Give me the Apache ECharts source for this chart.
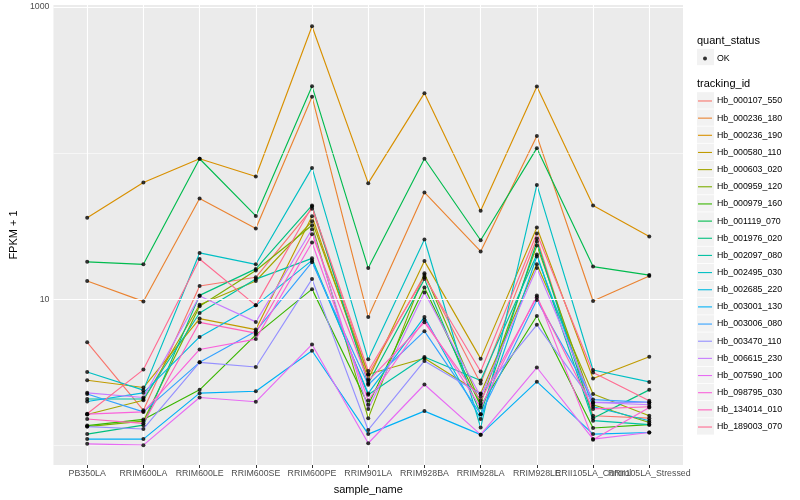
<!DOCTYPE html>
<html>
<head>
<meta charset="utf-8">
<script src="https://cdn.jsdelivr.net/npm/echarts@6/dist/echarts.min.js"></script>
<style>html,body{margin:0;padding:0;background:#fff;}#main{width:800px;height:500px;}</style>
</head>
<body>
<div id="main"></div>
<script>
// ---- data ----
const categories = ['PB350LA','RRIM600LA','RRIM600LE','RRIM600SE','RRIM600PE','RRIM901LA','RRIM928BA','RRIM928LA','RRIM928LE','RRII105LA_Control','RRII105LA_Stressed'];
const trackingIds = ['Hb_000107_550','Hb_000236_180','Hb_000236_190','Hb_000580_110','Hb_000603_020','Hb_000959_120','Hb_000979_160','Hb_001119_070','Hb_001976_020','Hb_002097_080','Hb_002495_030','Hb_002685_220','Hb_003001_130','Hb_003006_080','Hb_003470_110','Hb_006615_230','Hb_007590_100','Hb_098795_030','Hb_134014_010','Hb_189003_070'];
const Hb_000107_550 = [5.06, 1.73, 12.3, 14.1, 41.6, 3.03, 14.6, 2.64, 26.0, 1.59, 1.53];
const Hb_000236_180 = [13.3, 9.64, 48.9, 30.4, 243, 7.55, 53.7, 21.2, 131, 9.7, 14.4];
const Hb_000236_190 = [36.1, 62.8, 91.4, 69.0, 739, 62.2, 257, 40.3, 286, 43.7, 26.8];
const Hb_000580_110 = [2.78, 2.48, 7.35, 6.18, 36.9, 2.83, 18.2, 3.91, 30.9, 2.86, 4.03];
const Hb_000603_020 = [1.62, 2.03, 9.15, 13.3, 34.1, 3.06, 3.93, 2.26, 17.3, 2.24, 1.59];
const Hb_000959_120 = [1.34, 1.46, 8.92, 15.7, 32.0, 1.53, 15.0, 1.93, 23.3, 1.89, 1.43];
const Hb_000979_160 = [1.36, 1.50, 2.39, 5.69, 11.7, 1.89, 12.0, 1.86, 7.66, 1.31, 1.38];
const Hb_001119_070 = [18.0, 17.3, 91.4, 37.1, 287, 16.3, 91.4, 25.3, 108, 16.7, 14.6];
const Hb_001976_020 = [1.19, 1.37, 10.6, 16.1, 43.8, 2.64, 13.7, 1.63, 24.8, 1.53, 2.39];
const Hb_002097_080 = [2.07, 2.07, 8.03, 13.7, 19.0, 2.21, 4.01, 2.77, 20.2, 1.47, 1.38];
const Hb_002495_030 = [3.17, 2.38, 20.7, 17.3, 79.1, 3.87, 25.6, 1.32, 60.5, 3.27, 2.71];
const Hb_002685_220 = [1.99, 2.28, 5.51, 9.06, 18.4, 2.26, 7.55, 1.51, 19.6, 1.83, 1.47];
const Hb_003001_130 = [1.10, 1.10, 2.27, 2.34, 4.43, 1.19, 1.71, 1.18, 2.72, 1.19, 1.22];
const Hb_003006_080 = [2.24, 1.69, 3.69, 6.03, 17.9, 2.59, 6.03, 1.63, 9.84, 2.05, 1.96];
const Hb_003470_110 = [1.34, 1.29, 3.69, 3.43, 13.7, 1.27, 3.77, 2.24, 6.66, 1.96, 1.96];
const Hb_006615_230 = [2.28, 2.12, 10.5, 6.98, 30.1, 1.77, 11.1, 2.15, 16.3, 1.96, 1.89];
const Hb_007590_100 = [1.02, 1.00, 2.12, 1.98, 4.89, 1.03, 2.60, 1.18, 3.40, 1.10, 1.22];
const Hb_098795_030 = [1.63, 1.69, 4.52, 5.32, 24.4, 2.02, 7.22, 1.81, 10.6, 1.09, 1.81];
const Hb_134014_010 = [1.51, 1.41, 6.93, 5.85, 27.8, 2.75, 6.93, 2.03, 10.3, 1.77, 1.83];
const Hb_189003_070 = [1.64, 3.29, 18.8, 9.06, 43.0, 3.22, 14.1, 3.19, 28.1, 3.14, 2.01];
const yMajorTicks = [10, 1000];
const yMinorLines = [1, 100];

const seriesValues = [Hb_000107_550, Hb_000236_180, Hb_000236_190, Hb_000580_110, Hb_000603_020, Hb_000959_120, Hb_000979_160, Hb_001119_070, Hb_001976_020, Hb_002097_080, Hb_002495_030, Hb_002685_220, Hb_003001_130, Hb_003006_080, Hb_003470_110, Hb_006615_230, Hb_007590_100, Hb_098795_030, Hb_134014_010, Hb_189003_070];

// ---- style ----
const palette = ['#F8766D','#EA8331','#D89000','#C09B00','#A3A500','#7CAE00','#39B600','#00BB4E','#00BF7D','#00C1A3','#00BFC4','#00BAE0','#00B0F6','#35A2FF','#9590FF','#C77CFF','#E76BF3','#FA62DB','#FF62BC','#FF6C91'];
const FONT = 'Liberation Sans';
const catIdx = categories.map((c, i) => i);
const evenIdx = catIdx.filter(i => i % 2 === 0);
const oddIdx = catIdx.filter(i => i % 2 === 1);

const chart = echarts.init(document.getElementById('main'), null, {renderer: 'canvas'});

const lineSeries = trackingIds.map((id, k) => ({
  type: 'line',
  name: id,
  xAxisIndex: 0,
  data: seriesValues[k].map((v, i) => [i, v]),
  showSymbol: false,
  symbol: 'none',
  color: palette[k],
  lineStyle: {width: 1.15, color: palette[k]},
  z: 3,
  silent: true
}));

const pointData = [];
seriesValues.forEach(arr => arr.forEach((v, i) => pointData.push([i, v])));

const gridLines = [];
catIdx.forEach(i => gridLines.push({xAxis: i, lineStyle: {width: 1.1}}));
yMajorTicks.forEach(v => gridLines.push({yAxis: v, lineStyle: {width: 1.1}}));
yMinorLines.forEach(v => gridLines.push({yAxis: v, lineStyle: {width: 0.55}}));

const keyBoxes = [];
const keyStart = 92.2, keyStep = 17.16;
trackingIds.forEach((id, i) => keyBoxes.push({
  type: 'rect', shape: {x: 697, y: keyStart + i * keyStep, width: 17, height: 16.4},
  style: {fill: '#F2F2F2'}, z: 0, silent: true
}));
keyBoxes.push({type: 'rect', shape: {x: 697, y: 48.8, width: 17, height: 16.4}, style: {fill: '#F2F2F2'}, z: 0, silent: true});

const xLabelStyle = {interval: 0, hideOverlap: false, showMinLabel: true, showMaxLabel: true, margin: 4,
  fontFamily: FONT, fontSize: 8.8, color: '#4D4D4D', formatter: v => categories[Math.round(v)] || ''};

const option = {
  animation: false,
  backgroundColor: '#ffffff',
  grid: {left: 45, right: 117, top: 5, bottom: 32, show: true, backgroundColor: '#EBEBEB', borderWidth: 0, containLabel: false},
  xAxis: [
    {
      type: 'value', min: -0.6, max: 10.6, position: 'bottom',
      name: 'sample_name', nameLocation: 'middle', nameGap: 19,
      nameTextStyle: {fontFamily: FONT, fontSize: 11, color: '#000'},
      axisLine: {show: false},
      splitLine: {show: false},
      axisTick: {show: true, customValues: catIdx, length: 3, lineStyle: {color: '#333', width: 1}},
      axisLabel: Object.assign({customValues: evenIdx}, xLabelStyle)
    },
    {
      type: 'value', min: -0.6, max: 10.6, position: 'bottom', offset: 0,
      axisLine: {show: false},
      splitLine: {show: false},
      axisTick: {show: false},
      axisLabel: Object.assign({customValues: oddIdx}, xLabelStyle)
    }
  ],
  yAxis: {
    type: 'log', logBase: 10, min: 0.731, max: 1032,
    name: 'FPKM + 1', nameLocation: 'middle', nameRotate: 90, nameGap: 33,
    nameTextStyle: {fontFamily: FONT, fontSize: 11, color: '#000'},
    axisLine: {show: false},
    splitLine: {show: false},
    axisTick: {show: true, customValues: yMajorTicks, length: 3, lineStyle: {color: '#333', width: 1}},
    axisLabel: {customValues: yMajorTicks, showMinLabel: true, showMaxLabel: true, margin: 4, fontFamily: FONT, fontSize: 8.8, color: '#4D4D4D',
      formatter: v => (yMajorTicks.some(t => Math.abs(t - v) / t < 1e-6) ? String(Math.round(v)) : '')}
  },
  legend: [
    {
      data: ['OK'], orient: 'vertical', left: 703, top: 54, padding: 0,
      icon: 'circle', itemWidth: 4, itemHeight: 4,
      textStyle: {fontFamily: FONT, fontSize: 8.8, color: '#000', padding: [0, 0, 0, 5]},
      selectedMode: false
    },
    {
      data: trackingIds, orient: 'vertical', left: 698, top: keyStart + 0.2, padding: 0,
      icon: 'rect', itemWidth: 14, itemHeight: 1.1, itemGap: 0,
      textStyle: {fontFamily: FONT, fontSize: 8.8, color: '#000', lineHeight: keyStep, padding: [0, 0, 0, 0]},
      selectedMode: false
    }
  ],
  graphic: keyBoxes.concat([
    {type: 'text', left: 697, top: 35, style: {text: 'quant_status', font: '11px "Liberation Sans"', fill: '#000'}, z: 5},
    {type: 'text', left: 697, top: 78, style: {text: 'tracking_id', font: '11px "Liberation Sans"', fill: '#000'}, z: 5}
  ]),
  series: [
    {
      type: 'line', name: '_grid', xAxisIndex: 0, data: [[0, 10]], showSymbol: false, symbol: 'none',
      lineStyle: {opacity: 0}, z: 1, silent: true,
      markLine: {silent: true, symbol: ['none', 'none'], label: {show: false}, animation: false,
        lineStyle: {color: '#FFFFFF', type: 'solid', width: 1.1}, data: gridLines}
    }
  ].concat(lineSeries).concat([
    {type: 'scatter', name: 'OK', xAxisIndex: 0, data: pointData, symbol: 'circle', symbolSize: 4, itemStyle: {color: '#000'}, z: 5, silent: true}
  ])
};
chart.setOption(option);
</script>
</body>
</html>
